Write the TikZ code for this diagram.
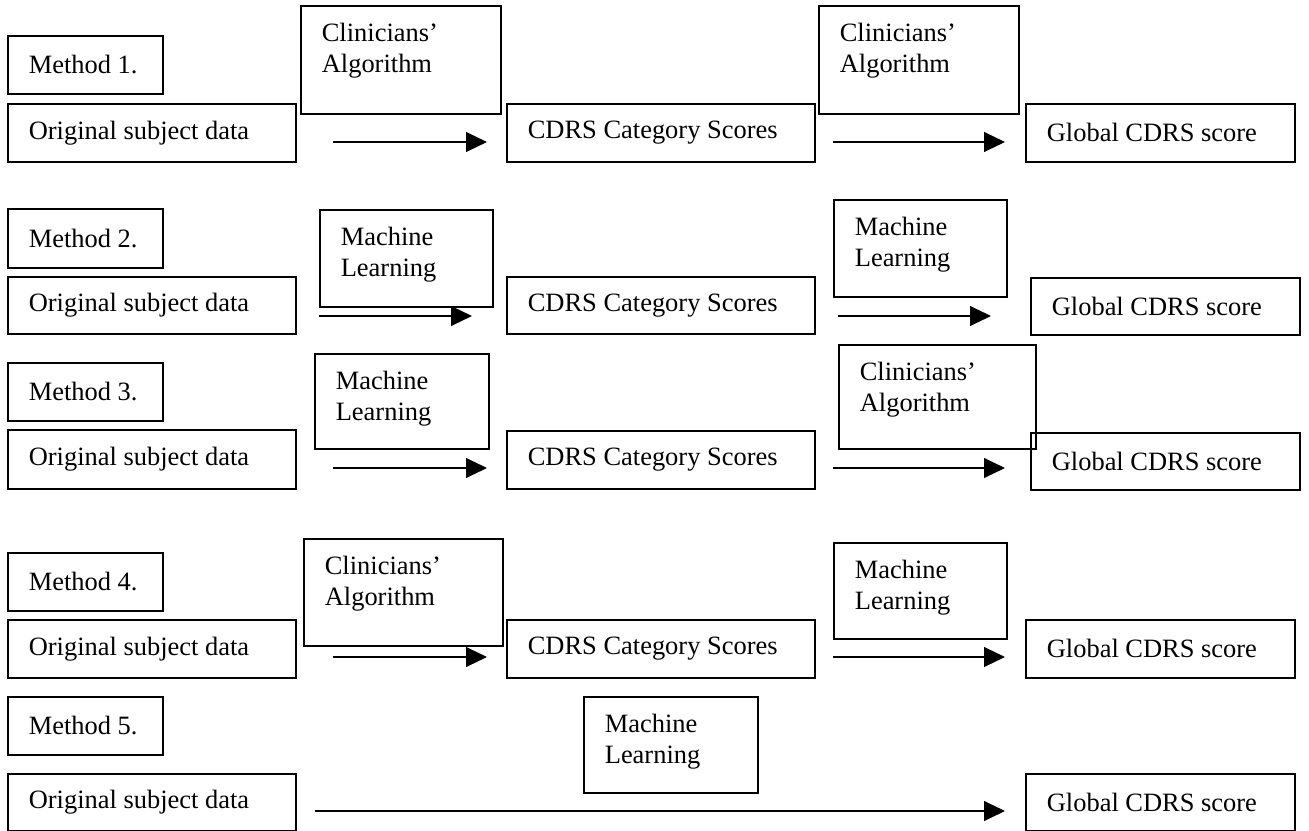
\documentclass[tikz,border=0pt]{standalone}
\usepackage{fontspec}
\setmainfont{Liberation Serif}
\usetikzlibrary{arrows.meta}
\newlength\pxu
\setlength\pxu{0.4536pt}
\tikzset{
  boxst/.style={draw, line width=0.75pt, inner sep=0pt, anchor=north west,
    font=\fontsize{12pt}{14pt}\selectfont},
  arr/.style={line width=0.6pt, -{Triangle[length=9.5pt,width=9pt]}}
}
% single-line box: name, x1, y1, x2, y2, text
\newcommand\onebox[6]{%
  \pgfmathsetlengthmacro\bw{(#4-#2)*\pxu}%
  \pgfmathsetlengthmacro\bh{(#5-#3)*\pxu}%
  \node[boxst] (#1) at (#2,#3) {\parbox[t][\bh][c]{\bw}{\leftskip=21\pxu\relax\parindent=0pt #6\par}};%
}
% two-line box (text at top): name, x1, y1, x2, y2, text
\newcommand\twobox[6]{%
  \pgfmathsetlengthmacro\bw{(#4-#2)*\pxu}%
  \pgfmathsetlengthmacro\bh{(#5-#3)*\pxu}%
  \node[boxst] (#1) at (#2,#3) {\parbox[t][\bh][t]{\bw}{\vspace*{17\pxu}\leftskip=21\pxu\relax\parindent=0pt #6\par}};%
}
\begin{document}
\begin{tikzpicture}[x=0.4536pt, y=-0.4536pt]
\useasboundingbox (0,0) rectangle (1309,831);

% ---------- Method 1 ----------
\onebox{m1}{7}{35}{162}{93}{Method 1.}
\onebox{o1}{7}{103}{295}{161}{Original subject data}
\twobox{c1a}{300}{5}{500}{113}{Clinicians’\\Algorithm}
\onebox{s1}{506}{103}{814}{161}{CDRS Category Scores}
\twobox{c1b}{818}{5}{1018}{113}{Clinicians’\\Algorithm}
\onebox{g1}{1025}{103}{1294}{161}{Global CDRS score}
\coordinate (a1s) at (333,142); \coordinate (a1e) at (487,142);
\coordinate (b1s) at (833,142); \coordinate (b1e) at (1005,142);
\draw[arr] (a1s) -- (a1e);
\draw[arr] (b1s) -- (b1e);

% ---------- Method 2 ----------
\onebox{m2}{7}{208}{162}{267}{Method 2.}
\onebox{o2}{7}{276}{295}{333}{Original subject data}
\twobox{ml2a}{319}{209}{492}{306}{Machine\\Learning}
\onebox{s2}{506}{276}{814}{333}{CDRS Category Scores}
\twobox{ml2b}{833}{199}{1006}{296}{Machine\\Learning}
\onebox{g2}{1030}{277}{1299}{334}{Global CDRS score}
\coordinate (a2s) at (319,316); \coordinate (a2e) at (472,316);
\coordinate (b2s) at (838,316); \coordinate (b2e) at (991,316);
\draw[arr] (a2s) -- (a2e);
\draw[arr] (b2s) -- (b2e);

% ---------- Method 3 ----------
\onebox{m3}{7}{362}{162}{420}{Method 3.}
\onebox{o3}{7}{429}{295}{488}{Original subject data}
\twobox{ml3a}{314}{353}{488}{448}{Machine\\Learning}
\onebox{s3}{506}{430}{814}{488}{CDRS Category Scores}
\twobox{c3b}{838}{344}{1035}{448}{Clinicians’\\Algorithm}
\onebox{g3}{1030}{432}{1299}{489}{Global CDRS score}
\coordinate (a3s) at (333,468); \coordinate (a3e) at (487,468);
\coordinate (b3s) at (833,468); \coordinate (b3e) at (1005,468);
\draw[arr] (a3s) -- (a3e);
\draw[arr] (b3s) -- (b3e);

% ---------- Method 4 ----------
\onebox{m4}{7}{552}{162}{610}{Method 4.}
\onebox{o4}{7}{619}{295}{677}{Original subject data}
\twobox{c4a}{303}{538}{502}{645}{Clinicians’\\Algorithm}
\onebox{s4}{506}{619}{814}{677}{CDRS Category Scores}
\twobox{ml4b}{833}{542}{1006}{638}{Machine\\Learning}
\onebox{g4}{1025}{619}{1294}{677}{Global CDRS score}
\coordinate (a4s) at (333,657); \coordinate (a4e) at (487,657);
\coordinate (b4s) at (833,657); \coordinate (b4e) at (1005,657);
\draw[arr] (a4s) -- (a4e);
\draw[arr] (b4s) -- (b4e);

% ---------- Method 5 ----------
\onebox{m5}{7}{696}{162}{754}{Method 5.}
\onebox{o5}{7}{773}{295}{830}{Original subject data}
\twobox{ml5}{583}{696}{757}{792}{Machine\\Learning}
\onebox{g5}{1025}{773}{1294}{830}{Global CDRS score}
\coordinate (a5s) at (315,811); \coordinate (a5e) at (1005,811);
\draw[arr] (a5s) -- (a5e);
\end{tikzpicture}
\end{document}
